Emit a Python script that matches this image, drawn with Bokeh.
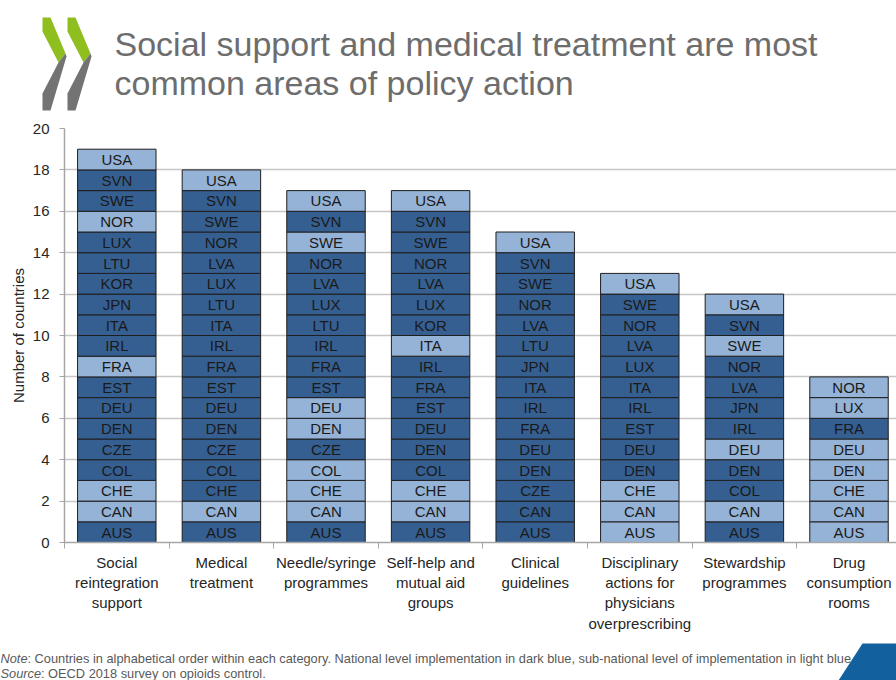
from bokeh.plotting import figure
from bokeh.models import ColumnDataSource, Range1d, FixedTicker
from bokeh.layouts import column
from bokeh.core.properties import value
from bokeh.embed import file_html
from bokeh.resources import INLINE

# ---------------- data ----------------
categories = [
    "Social\nreintegration\nsupport",
    "Medical\ntreatment",
    "Needle/syringe\nprogrammes",
    "Self-help and\nmutual aid\ngroups",
    "Clinical\nguidelines",
    "Disciplinary\nactions for\nphysicians\noverprescribing",
    "Stewardship\nprogrammes",
    "Drug\nconsumption\nrooms",
]

# countries bottom -> top; level: N = national (dark blue), S = sub-national (light blue)
social_countries = ["AUS", "CAN", "CHE", "COL", "CZE", "DEN", "DEU", "EST", "FRA", "IRL",
                    "ITA", "JPN", "KOR", "LTU", "LUX", "NOR", "SWE", "SVN", "USA"]
social_levels = ["N", "S", "S", "N", "N", "N", "N", "N", "S", "N",
                 "N", "N", "N", "N", "N", "S", "N", "N", "S"]

medical_countries = ["AUS", "CAN", "CHE", "COL", "CZE", "DEN", "DEU", "EST", "FRA", "IRL",
                     "ITA", "LTU", "LUX", "LVA", "NOR", "SWE", "SVN", "USA"]
medical_levels = ["N", "S", "N", "N", "N", "N", "N", "N", "N", "N",
                  "N", "N", "N", "N", "N", "N", "N", "S"]

needle_countries = ["AUS", "CAN", "CHE", "COL", "CZE", "DEN", "DEU", "EST", "FRA", "IRL",
                    "LTU", "LUX", "LVA", "NOR", "SWE", "SVN", "USA"]
needle_levels = ["N", "S", "S", "S", "N", "S", "S", "N", "N", "N",
                 "N", "N", "N", "N", "S", "N", "S"]

selfhelp_countries = ["AUS", "CAN", "CHE", "COL", "DEN", "DEU", "EST", "FRA", "IRL", "ITA",
                      "KOR", "LUX", "LVA", "NOR", "SWE", "SVN", "USA"]
selfhelp_levels = ["N", "S", "S", "N", "N", "N", "N", "N", "N", "S",
                   "N", "N", "N", "N", "N", "N", "S"]

clinical_countries = ["AUS", "CAN", "CZE", "DEN", "DEU", "FRA", "IRL", "ITA", "JPN", "LTU",
                      "LVA", "NOR", "SWE", "SVN", "USA"]
clinical_levels = ["N", "N", "N", "N", "N", "N", "N", "N", "N", "N",
                   "N", "N", "N", "N", "S"]

disciplinary_countries = ["AUS", "CAN", "CHE", "DEN", "DEU", "EST", "IRL", "ITA", "LUX", "LVA",
                          "NOR", "SWE", "USA"]
disciplinary_levels = ["S", "S", "S", "N", "N", "N", "N", "N", "N", "N",
                       "N", "N", "S"]

stewardship_countries = ["AUS", "CAN", "COL", "DEN", "DEU", "IRL", "JPN", "LVA", "NOR", "SWE",
                         "SVN", "USA"]
stewardship_levels = ["N", "S", "N", "N", "S", "N", "N", "N", "N", "S",
                      "N", "S"]

rooms_countries = ["AUS", "CAN", "CHE", "DEN", "DEU", "FRA", "LUX", "NOR"]
rooms_levels = ["S", "S", "S", "S", "S", "N", "S", "S"]

y_ticks = [0, 2, 4, 6, 8, 10, 12, 14, 16, 18, 20]

title_lines = ["Social support and medical treatment are most",
               "common areas of policy action"]
note_label = "Note"
note_text = ": Countries in alphabetical order within each category. National level implementation in dark blue, sub-national level of implementation in light blue."
source_label = "Source"
source_text = ": OECD 2018 survey on opioids control."

# ---------------- styles ----------------
DARK = "#355f91"
LIGHT = "#95b3d7"
SANS = "Liberation Sans"
W = 896


def blank_fig(h):
    f = figure(width=W, height=h, x_range=Range1d(0, W), y_range=Range1d(h, 0),
               output_backend="svg", toolbar_location=None,
               x_axis_location=None, y_axis_location=None, frame_align=False,
               min_border=0, min_border_left=0, min_border_right=0,
               min_border_top=0, min_border_bottom=0)
    f.outline_line_color = None
    f.grid.visible = False
    f.title.visible = False
    return f


all_countries = [social_countries, medical_countries, needle_countries, selfhelp_countries,
                 clinical_countries, disciplinary_countries, stewardship_countries, rooms_countries]
all_levels = [social_levels, medical_levels, needle_levels, selfhelp_levels,
              clinical_levels, disciplinary_levels, stewardship_levels, rooms_levels]

xs, bottoms, tops, mids, colors, labels = [], [], [], [], [], []
for i, (cs, lv) in enumerate(zip(all_countries, all_levels)):
    for j, (c, l) in enumerate(zip(cs, lv)):
        xs.append(i)
        bottoms.append(j)
        tops.append(j + 1)
        mids.append(j + 0.5)
        colors.append(DARK if l == "N" else LIGHT)
        labels.append(c)

src = ColumnDataSource(dict(x=xs, bottom=bottoms, top=tops, mid=mids, color=colors, label=labels))

# ---------------- header ----------------
H_HEAD = 116
head = blank_fig(H_HEAD)
GREEN = "#8fbe1f"
GRAY = "#737373"
green_x = [42, 50, 65, 58, 42]
green_y = [17, 17, 53, 62, 31]
gray_x = [58, 65, 66, 50, 42, 42]
gray_y = [62, 53, 56, 110, 110, 93]
for off in (0, 25):
    head.patch([v + off for v in green_x], green_y, fill_color=GREEN, line_color=None)
    head.patch([v + off for v in gray_x], gray_y, fill_color=GRAY, line_color=None)
head.text(x=[114, 114], y=[43, 82], text=title_lines, text_align="left",
          text_baseline="alphabetic", text_font=value(SANS), text_font_size="34px",
          text_color="#6d6d6d")

# ---------------- main chart ----------------
n = len(categories)
BORDER_L = 64
CAT_PX = 104.6
p = figure(width=W, height=524, x_range=Range1d(-0.5, -0.5 + (W - BORDER_L) / CAT_PX),
           y_range=Range1d(0, 20), output_backend="svg", toolbar_location=None,
           frame_align=False,
           min_border_left=BORDER_L, min_border_right=0, min_border_top=12, min_border_bottom=98)
p.outline_line_color = None
p.xgrid.visible = False
p.ygrid.ticker = FixedTicker(ticks=y_ticks)
p.ygrid.grid_line_color = "#c6c6c6"
p.ygrid.grid_line_width = 1.5

p.vbar(x="x", bottom="bottom", top="top", width=0.75, fill_color="color",
       line_color="#1e1e1e", line_width=1, source=src)
p.text(x="x", y="mid", text="label", text_align="center", text_baseline="middle",
       text_font=value(SANS), text_font_size="15px", text_color="#1a1a1a", source=src)

xa = p.xaxis[0]
xa.ticker = FixedTicker(ticks=list(range(n)), minor_ticks=[k - 0.5 for k in range(n + 1)])
xa.major_label_overrides = {k: categories[k] for k in range(n)}
xa.major_tick_line_color = None
xa.major_tick_out = 0
xa.major_tick_in = 0
xa.minor_tick_line_color = "#a6a6a6"
xa.minor_tick_out = 6
xa.minor_tick_in = 0
xa.axis_line_color = "#a6a6a6"
xa.axis_line_width = 1.5
xa.major_label_standoff = 5
xa.major_label_text_font = SANS
xa.major_label_text_font_size = "15px"
xa.major_label_text_color = "#262626"

ya = p.yaxis[0]
ya.ticker = FixedTicker(ticks=y_ticks, minor_ticks=[])
ya.major_tick_out = 5
ya.major_tick_in = 0
ya.major_tick_line_color = "#a6a6a6"
ya.minor_tick_line_color = None
ya.axis_line_color = "#a6a6a6"
ya.axis_line_width = 1.5
ya.major_label_standoff = 10
ya.major_label_text_font = SANS
ya.major_label_text_font_size = "15px"
ya.major_label_text_color = "#262626"
ya.axis_label = "Number of countries"
ya.axis_label_text_font = SANS
ya.axis_label_text_font_size = "15px"
ya.axis_label_text_font_style = "normal"
ya.axis_label_text_color = "#262626"
ya.axis_label_standoff = 3

# ---------------- footer ----------------
H_FOOT = 40
foot = blank_fig(H_FOOT)
FOOT = "#595959"
foot.text(x=[0, 0], y=[18, 32.5], text=[note_label, source_label], text_baseline="alphabetic",
          text_font=value(SANS), text_font_size="12.8px", text_font_style="italic",
          text_color=FOOT)
foot.text(x=[27, 40.5], y=[18, 32.5], text=[note_text, source_text], text_baseline="alphabetic",
          text_font=value(SANS), text_font_size="12.8px", text_color=FOOT)
foot.patch([838, 862, 896, 896], [40, 3, 3, 40], fill_color="#12609e", line_color=None)

layout = column(head, p, foot, spacing=0)
open("out.html", "w").write(file_html(layout, INLINE))
